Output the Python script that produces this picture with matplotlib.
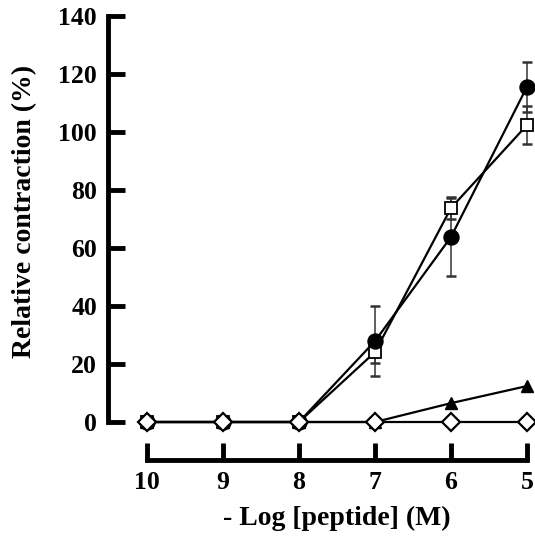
import matplotlib
matplotlib.use("Agg")
import matplotlib.pyplot as plt

# Data
x_vals = [10, 9, 8, 7, 6, 5]
circle_y = [0, 0, 0, 27.9, 63.8, 115.6]
circle_err = [0, 0, 0, 12.0, 13.5, 8.6]
square_y = [0, 0, 0, 24.1, 73.8, 102.4]
square_err = [0, 0, 0, 3.8, 3.8, 6.5]
triangle_y = [0, 0, 0, 0, 6.5, 12.4]
diamond_y = [0, 0, 0, 0, 0, 0]
x_ticks = [10, 9, 8, 7, 6, 5]
y_ticks = [0, 20, 40, 60, 80, 100, 120, 140]

plt.rcParams['font.family'] = ['Liberation Serif', 'DejaVu Serif']
plt.rcParams['font.weight'] = 'bold'

W, H = 535, 537
fig = plt.figure(figsize=(W / 100, H / 100), dpi=100)
ax_left, ax_right, ax_top, ax_bottom = 108, 527, 16, 460
ax = fig.add_axes([ax_left / W, 1 - ax_bottom / H, (ax_right - ax_left) / W, (ax_bottom - ax_top) / H])

ax.set_xlim(10.513, 5)
ax.set_ylim(-13.1, 140)

lw = 1.6
ebkw = dict(ecolor='#333333', elinewidth=1.1, capsize=3.5, capthick=1.8)

ax.errorbar(x_vals, square_y, yerr=square_err, fmt='none', zorder=2, clip_on=False, **ebkw)
ax.errorbar(x_vals, circle_y, yerr=circle_err, fmt='none', zorder=2, clip_on=False, **ebkw)

ax.plot(x_vals, triangle_y, '-', color='black', lw=lw, marker='^', ms=9,
        mfc='black', mec='black', zorder=3, clip_on=False)
ax.plot(x_vals, square_y, '-', color='black', lw=lw, marker='s', ms=8.5,
        mfc='white', mec='black', mew=1.3, zorder=4, clip_on=False)
ax.plot(x_vals, circle_y, '-', color='black', lw=lw, marker='o', ms=10.8,
        mfc='black', mec='black', zorder=5, clip_on=False)
ax.plot(x_vals, diamond_y, '-', color='black', lw=lw, marker='D', ms=9.5,
        mfc='white', mec='black', mew=1.6, zorder=6, clip_on=False)

for s in ['top', 'right']:
    ax.spines[s].set_visible(False)
ax.spines['left'].set_linewidth(3.5)
ax.spines['bottom'].set_linewidth(3.5)
ax.spines['left'].set_bounds(0, 140)
ax.spines['bottom'].set_bounds(10, 5)
ax.spines['left'].set_capstyle('projecting')
ax.spines['bottom'].set_capstyle('projecting')

ax.set_xticks(x_ticks)
ax.set_xticklabels([str(v) for v in x_ticks])
ax.set_yticks(y_ticks)
ax.set_yticklabels([str(v) for v in y_ticks])
ax.tick_params(axis='both', direction='in', length=12, width=3.5, labelsize=18.5, pad=8,
               colors='black')
for lab in ax.get_xticklabels() + ax.get_yticklabels():
    lab.set_fontweight('bold')

fig.text(25 / W, 1 - 211 / H, 'Relative contraction (%)', rotation=90, ha='center',
         va='center', fontsize=20, fontweight='bold')
fig.text(336.5 / W, 1 - 518 / H, '- Log [peptide] (M)', ha='center', va='center',
         fontsize=20, fontweight='bold')

fig.savefig('out.png', dpi=100)
